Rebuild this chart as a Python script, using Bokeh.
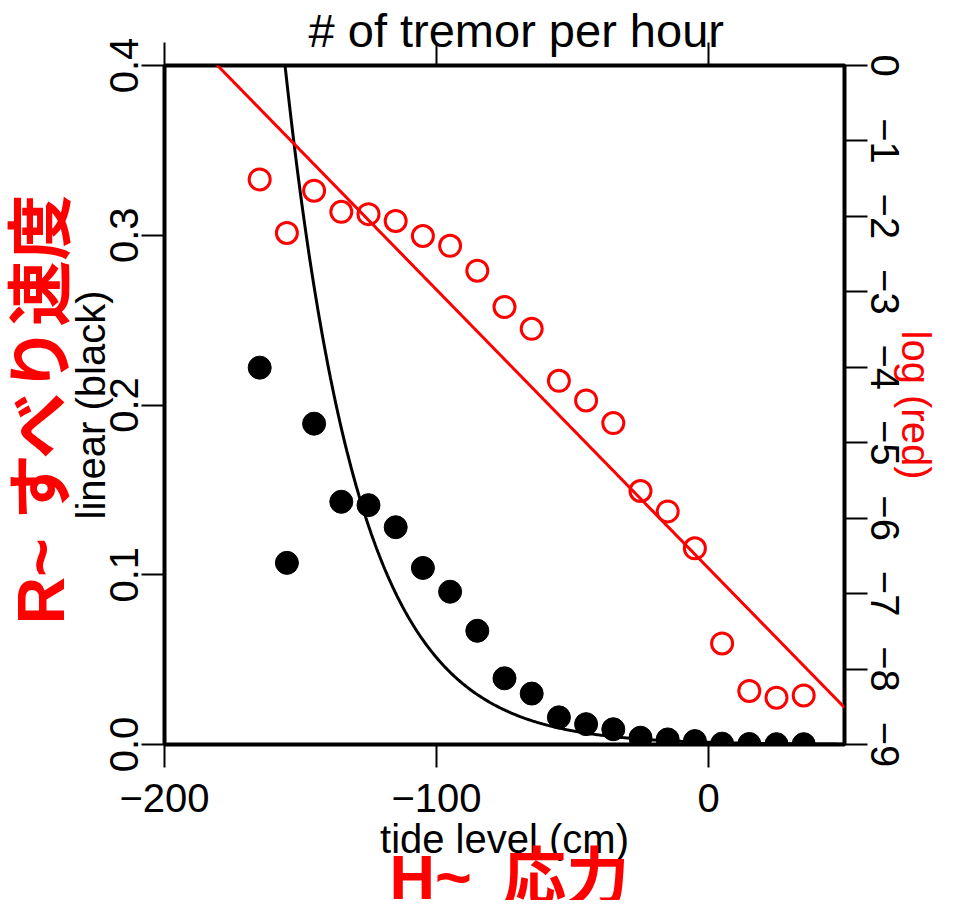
import numpy as np
from bokeh.plotting import figure
from bokeh.models import Range1d, LinearAxis, FixedTicker, CustomJSTickFormatter, Title
from bokeh.embed import file_html
from bokeh.resources import INLINE

# ---- data ----
tide_level = [-165, -155, -145, -135, -125, -115, -105, -95, -85, -75, -65,
              -55, -45, -35, -25, -15, -5, 5, 15, 25, 35]
tremor_linear = [0.222, 0.107, 0.189, 0.143, 0.141, 0.128, 0.104, 0.090, 0.067,
                 0.039, 0.030, 0.016, 0.012, 0.009, 0.004, 0.003, 0.002, 0.0005,
                 0.0003, 0.0002, 0.0002]
tremor_log = [-1.51, -2.22, -1.66, -1.94, -1.97, -2.06, -2.26, -2.39, -2.72,
              -3.20, -3.49, -4.18, -4.44, -4.74, -5.64, -5.91, -6.40, -7.66,
              -8.29, -8.38, -8.35]
# exponential fit: log(rate) = fit_intercept + fit_slope * tide
fit_intercept = -6.664
fit_slope = -0.03692
x_ticks = [-200, -100, 0]
linear_ticks = [0.0, 0.1, 0.2, 0.3, 0.4]
log_ticks = [0, -1, -2, -3, -4, -5, -6, -7, -8, -9]

FONT = "Liberation Sans"
MIXED = "'Liberation Sans', 'Noto Sans CJK JP'"
W, H = 945, 900

p = figure(width=W, height=H, x_range=Range1d(-200, 50), y_range=Range1d(0, 0.4),
           output_backend="svg", toolbar_location=None,
           min_border_left=164, min_border_right=101, min_border_top=63,
           min_border_bottom=156,
           x_axis_label="tide level (cm)", y_axis_label="linear (black)")
p.extra_y_ranges = {"log": Range1d(-9, 0)}
p.grid.visible = False
p.outline_line_color = "black"
p.outline_line_width = 4
p.outline_line_alpha = 1.0
p.background_fill_color = "white"
p.border_fill_color = "white"

minus_fmt = CustomJSTickFormatter(
    code="return tick < 0 ? '\\u2212' + String(Math.abs(tick)) : String(tick);")


def style_axis(ax):
    ax.axis_line_color = None
    ax.major_tick_out = 23
    ax.major_tick_in = 0
    ax.major_tick_line_width = 2
    ax.major_tick_line_color = "black"
    ax.minor_tick_line_color = None
    ax.major_label_text_font = FONT
    ax.major_label_text_font_size = "40px"
    ax.major_label_text_color = "black"
    ax.axis_label_text_font = FONT
    ax.axis_label_text_font_size = "40px"
    ax.axis_label_text_font_style = "normal"
    ax.axis_label_text_color = "black"


xa = p.xaxis[0]
style_axis(xa)
xa.ticker = FixedTicker(ticks=x_ticks)
xa.formatter = minus_fmt
xa.major_label_standoff = 16
xa.axis_label_standoff = 2

ya = p.yaxis[0]
style_axis(ya)
ya.ticker = FixedTicker(ticks=linear_ticks)
ya.formatter = CustomJSTickFormatter(code="return tick.toFixed(1);")
ya.major_label_orientation = "vertical"
ya.major_label_standoff = 4
ya.axis_label_standoff = -6

ra = LinearAxis(y_range_name="log", ticker=FixedTicker(ticks=log_ticks),
                formatter=minus_fmt)
style_axis(ra)
ra.major_label_orientation = "parallel"
ra.major_label_standoff = 3
p.add_layout(ra, "right")

# top axis: tick marks only, its label carries the chart title
ta = LinearAxis(ticker=FixedTicker(ticks=x_ticks),
                formatter=CustomJSTickFormatter(code="return '';"),
                axis_label="\u2002# of tremor per hour")
style_axis(ta)
ta.major_label_text_font_size = "1px"
ta.major_label_standoff = 0
ta.axis_label_text_font_size = "47px"
ta.axis_label_standoff = -14
p.add_layout(ta, "above")

# black: linear scale
p.scatter(tide_level, tremor_linear, size=23, fill_color="black", line_color="black")
fit_x = np.linspace(-200, 50, 501)
fit_log = fit_intercept + fit_slope * fit_x
p.line(fit_x, np.exp(fit_log), line_color="black", line_width=3)

# red: log scale
p.scatter(tide_level, tremor_log, size=21, fill_color=None, line_color="red",
          line_width=3, y_range_name="log")
p.line(fit_x, fit_log, line_color="red", line_width=3, y_range_name="log")

# side texts outside the frame
p.add_layout(Title(text="log (red)", align="center", vertical_align="middle",
                   standoff=-17, text_font=FONT, text_font_size="40px",
                   text_font_style="normal", text_color="red"), "right")
p.add_layout(Title(text="R~ すべり速度", align="left", offset=120,
                   vertical_align="top", standoff=-28, text_font=MIXED,
                   text_font_size="66px", text_font_style="bold",
                   text_color="red"), "left")
p.add_layout(Title(text="H~\u2002応力", align="left", offset=225,
                   vertical_align="bottom", standoff=-47, text_font=MIXED,
                   text_font_size="63px", text_font_style="bold",
                   text_color="red"), "below")

open("out.html", "w").write(file_html(p, INLINE))
